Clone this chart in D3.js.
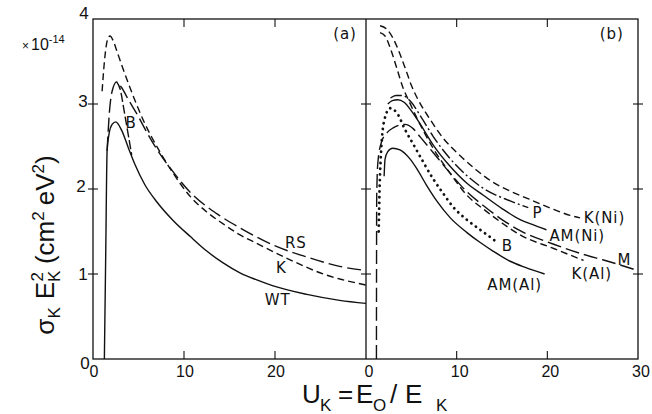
<!DOCTYPE html>
<html><head><meta charset="utf-8">
<script src="https://cdn.jsdelivr.net/npm/d3@7"></script>
<style>body{margin:0;background:#fff} svg{display:block}</style>
</head><body><svg id="c" width="652" height="414"></svg>
<script>
// ---- tick values ----
const yTicks = [0, 1, 2, 3, 4];
const xTicksA = [0, 10, 20];
const xTicksB = [0, 10, 20, 30];

// ---- panel (a) curves: [U, sigma*E^2 (1e-14)] ----
const WT = [[1.25,0],[1.4,1.25],[1.55,2.45],[1.75,2.64],[2.1,2.76],[2.5,2.79],[3.15,2.69],[3.9,2.48],[4.6,2.29],[5.7,2.05],[7.0,1.85],[8.8,1.63],[10.7,1.44],[12.5,1.27],[14.3,1.13],[16.2,1.01],[18,0.93],[19.8,0.86],[23.5,0.76],[27.1,0.69],[30,0.655]];
const Ka = [[1.0,3.15],[1.3,3.55],[1.6,3.76],[1.87,3.8],[2.2,3.75],[2.6,3.63],[3.15,3.46],[3.9,3.24],[5.0,2.94],[5.7,2.77],[6.4,2.62],[7.5,2.41],[8.6,2.22],[10.7,1.91],[12.5,1.73],[14.3,1.59],[16,1.47],[18,1.36],[21.6,1.17],[25.3,1.0],[30,0.87]];
const RS = [[1.55,2.45],[1.8,2.9],[2.1,3.15],[2.6,3.26],[3.1,3.2],[3.9,3.05],[5.0,2.85],[6.0,2.65],[7.0,2.47],[8.6,2.23],[10.7,1.96],[13.6,1.71],[16.2,1.54],[19.8,1.34],[23.5,1.2],[27.1,1.09],[30,1.04]];
const Ba = [[2.6,3.26],[2.97,3.18],[3.5,2.87],[4.25,2.4]];

// ---- panel (b) curves ----
const KNi = [[1.55,3.92],[2.3,3.88],[3.0,3.77],[3.7,3.6],[4.4,3.4],[5.0,3.22],[5.8,3.04],[7.0,2.83],[8.5,2.6],[10.3,2.4],[12.1,2.23],[14.0,2.08],[16.0,1.97],[18.0,1.88],[20.7,1.76],[22.5,1.69],[23.6,1.66]];
const KAl = [[1.55,3.84],[2.1,3.8],[2.8,3.62],[3.4,3.42],[4.05,3.2],[4.8,3.02],[5.5,2.86],[6.25,2.7],[7.4,2.48],[9.25,2.19],[11.1,1.93],[13,1.76],[15,1.6],[17,1.46],[20.7,1.3],[24,1.16]];
const AMNi = [[2.4,3.0],[2.9,3.04],[3.5,3.05],[4.2,3.02],[5,2.92],[6,2.76],[7.4,2.52],[9.25,2.27],[11.1,2.07],[12.9,1.93],[15,1.77],[17,1.64],[18.4,1.58],[19.9,1.52]];
const P = [[2.7,3.07],[3.3,3.1],[4.0,3.1],[5.0,3.02],[6.0,2.86],[7.4,2.62],[9.25,2.36],[11.1,2.16],[12.9,2.01],[15.9,1.86],[17.9,1.78]];
const M = [[1.15,0],[1.18,1.9],[1.3,2.3],[1.7,2.55],[2.3,2.66],[3.0,2.72],[4.3,2.76],[5.2,2.71],[6.0,2.61],[7.4,2.43],[9.25,2.19],[11.1,1.97],[13,1.8],[15,1.64],[17,1.51],[20.7,1.35],[24,1.23],[26.2,1.165],[30,1.04]];
const Bb = [[1.4,1.5],[1.5,2.0],[1.7,2.5],[2.0,2.8],[2.65,2.95],[3.5,2.88],[4.3,2.7],[5.2,2.53],[6.3,2.32],[7.4,2.12],[8.5,1.95],[9.6,1.79],[11.1,1.64],[12.6,1.52],[14,1.41],[14.6,1.36]];
const AMAl = [[2.0,2.15],[2.1,2.35],[2.4,2.44],[2.94,2.48],[3.75,2.46],[4.8,2.36],[5.6,2.24],[6.7,2.04],[7.8,1.86],[9.3,1.66],[11.1,1.49],[12.6,1.37],[14,1.27],[15.9,1.15],[17.5,1.08],[19.7,1.0]];

// ---- curve labels [text, U, value] ----
const labelsA = [["RS",22.3,1.37],["K",20.7,1.07],["WT",20.3,0.70],["B",4.2,2.78],["(a)",27.7,3.82]];
const labelsB = [["P",18.9,1.72],["K(Ni)",26.3,1.655],["AM(Ni)",23.3,1.445],["M",28.5,1.17],["K(Al)",24.9,1.0],["B",15.6,1.33],["AM(Al)",16.4,0.87],["(b)",27.1,3.82]];

const svg = d3.select('#c');
const y = d3.scaleLinear().domain([0,4]).range([359,19]);
const xa = d3.scaleLinear().domain([0,30]).range([93,366]);
const xb = d3.scaleLinear().domain([0,30]).range([366,638]);

const ink = '#111';
const tickFont = "'Liberation Sans', Arial, sans-serif";
const labFont = "'DejaVu Sans', sans-serif";

// frame
svg.append('rect').attr('x',xa(0)).attr('y',y(4)).attr('width',xb(30)-xa(0)).attr('height',y(0)-y(4))
  .attr('fill','none').attr('stroke',ink).attr('stroke-width',1.3);
svg.append('line').attr('x1',xb(0)).attr('x2',xb(0)).attr('y1',y(0)).attr('y2',y(4)).attr('stroke',ink).attr('stroke-width',1.3);

// y ticks crossing each vertical edge
[xa(0), xb(0), xb(30)].forEach(xx=>{
  [1,2,3].forEach(v=>{
    svg.append('line').attr('x1',xx-5).attr('x2',xx+5).attr('y1',y(v)).attr('y2',y(v)).attr('stroke',ink).attr('stroke-width',1.1);
  });
});
// x ticks inward top and bottom
[[xa,[10,20]],[xb,[10,20]]].forEach(([sc,vals])=>{
  vals.forEach(u=>{
    svg.append('line').attr('x1',sc(u)).attr('x2',sc(u)).attr('y1',y(0)).attr('y2',y(0)-8).attr('stroke',ink).attr('stroke-width',1.1);
    svg.append('line').attr('x1',sc(u)).attr('x2',sc(u)).attr('y1',y(4)).attr('y2',y(4)+8).attr('stroke',ink).attr('stroke-width',1.1);
  });
});

// tick labels
const yOff = {0:[-8,4],1:[-10,0],2:[-12,-3],3:[-10,-3],4:[-9,-6]};
yTicks.forEach(v=>{
  svg.append('text').attr('x',xa(0)+yOff[v][0]).attr('y',y(v)+yOff[v][1]).attr('text-anchor','middle')
    .attr('dominant-baseline','central').attr('font-family',tickFont).attr('font-size',17).attr('fill',ink).text(v);
});
xTicksA.forEach(u=>{
  svg.append('text').attr('x',xa(u)+1).attr('y',377).attr('text-anchor','middle')
    .attr('font-family',tickFont).attr('font-size',16).attr('fill',ink).text(u);
});
xTicksB.forEach(u=>{
  svg.append('text').attr('x',xb(u)+3).attr('y',377).attr('text-anchor','middle')
    .attr('font-family',tickFont).attr('font-size',16).attr('fill',ink).text(u);
});

// curves
const lineA = d3.line().x(d=>xa(d[0])).y(d=>y(d[1])).curve(d3.curveMonotoneX);
const lineB = d3.line().x(d=>xb(d[0])).y(d=>y(d[1])).curve(d3.curveMonotoneX);
function draw(gen, data, dash, opts={}){
  svg.append('path').attr('d',gen(data)).attr('fill','none').attr('stroke',ink)
    .attr('stroke-width',opts.w||1.4).attr('stroke-dasharray',dash||null)
    .attr('stroke-linecap',opts.cap||'butt').attr('stroke-linejoin','round');
}
draw(lineA, WT, null);
draw(lineA, Ka, '7,4');
draw(lineA, RS, '14,5');
draw(lineA, Ba, '9,3');

draw(lineB, KNi, '7,4');
draw(lineB, KAl, '7,4');
draw(lineB, AMNi, null);
draw(lineB, P, '12,3,2,3');
draw(lineB, M, '14,5');
draw(lineB, Bb, '0.1,5.6', {w:2.8, cap:'round'});
draw(lineB, AMAl, null);

// curve labels
function labels(sc, arr){
  arr.forEach(([t,u,v])=>{
    svg.append('text').attr('x',sc(u)).attr('y',y(v)).attr('text-anchor','middle')
      .attr('dominant-baseline','central').attr('font-family',labFont).attr('font-size',15)
      .attr('letter-spacing',0.9).attr('fill',ink).text(t);
  });
}
labels(xa, labelsA);
labels(xb, labelsB);

// x10^-14
const mult = svg.append('text').attr('x',22).attr('y',50).attr('font-family',tickFont).attr('fill',ink);
mult.append('tspan').attr('font-size',12).text('×');
mult.append('tspan').attr('font-size',16).attr('dx',2).text('10');
mult.append('tspan').attr('font-size',11).attr('dy',-7).text('-14');

// y-axis title
const yt = svg.append('text').attr('transform','translate(54,245) rotate(-90)').attr('text-anchor','middle')
  .attr('font-family',tickFont).attr('font-size',26).attr('fill',ink);
yt.append('tspan').text('σ');
yt.append('tspan').attr('font-size',17).attr('dy',6).text('K');
yt.append('tspan').attr('dy',-6).attr('dx',8).text('E');
yt.append('tspan').attr('font-size',17).attr('dy',6).text('K');
yt.append('tspan').attr('font-size',17).attr('dy',-17).attr('dx',-11).text('2');
yt.append('tspan').attr('dy',11).attr('dx',8).text('(cm');
yt.append('tspan').attr('font-size',17).attr('dy',-10).text('2');
yt.append('tspan').attr('dy',10).attr('dx',6).text('eV');
yt.append('tspan').attr('font-size',17).attr('dy',-10).text('2');
yt.append('tspan').attr('dy',10).text(')');

// x-axis title (pieces placed left to right)
const xt = svg.append('text').attr('y',403).attr('font-family',tickFont).attr('font-size',26).attr('fill',ink);
xt.append('tspan').attr('x',302).text('U');
xt.append('tspan').attr('x',320).attr('font-size',17).attr('dy',8).text('K');
xt.append('tspan').attr('x',338).attr('dy',-8).text('=');
xt.append('tspan').attr('x',356).text('E');
xt.append('tspan').attr('x',373).attr('font-size',17).attr('dy',8).text('O');
xt.append('tspan').attr('x',390).attr('dy',-8).text('/');
xt.append('tspan').attr('x',405).text('E');
xt.append('tspan').attr('x',436).attr('font-size',17).attr('dy',8).text('K');
</script></body></html>
